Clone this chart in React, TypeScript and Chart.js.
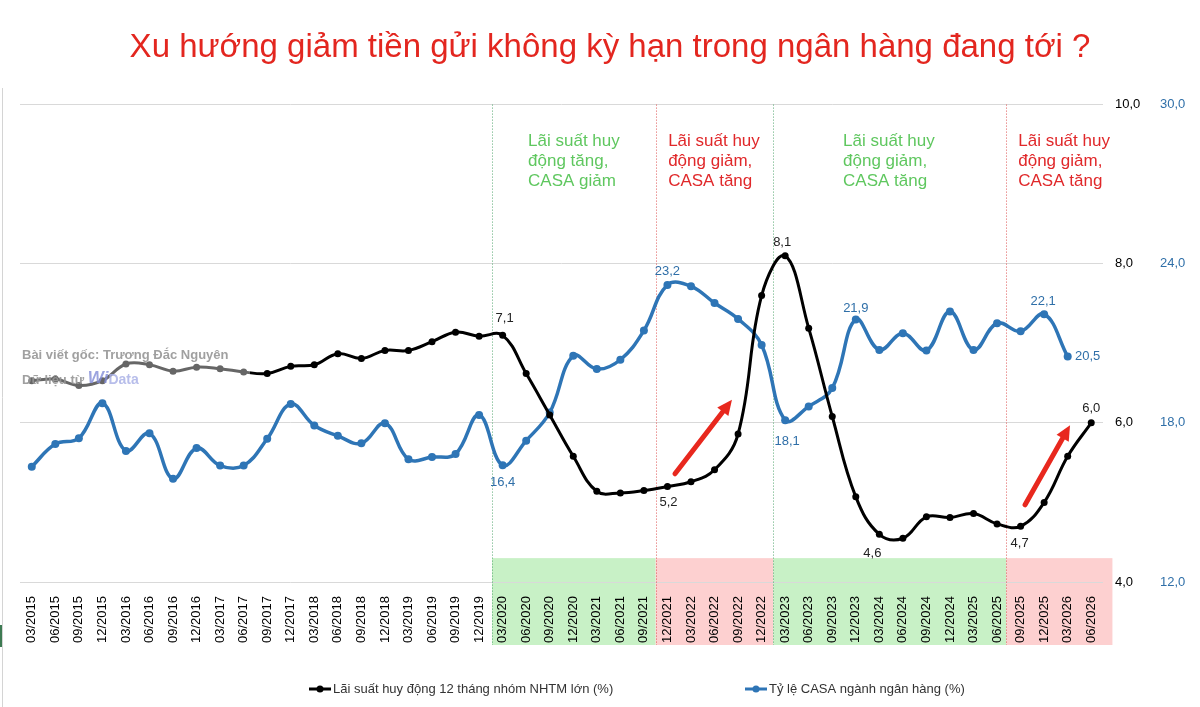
import React, { useEffect, useRef } from "react";
import { Chart, registerables } from "chart.js";

Chart.register(...registerables);
Chart.defaults.font.family = "'Liberation Sans', Arial, sans-serif";

// ---------- DATA ----------
const LABELS = [
  "03/2015", "06/2015", "09/2015", "12/2015",
  "03/2016", "06/2016", "09/2016", "12/2016",
  "03/2017", "06/2017", "09/2017", "12/2017",
  "03/2018", "06/2018", "09/2018", "12/2018",
  "03/2019", "06/2019", "09/2019", "12/2019",
  "03/2020", "06/2020", "09/2020", "12/2020",
  "03/2021", "06/2021", "09/2021", "12/2021",
  "03/2022", "06/2022", "09/2022", "12/2022",
  "03/2023", "06/2023", "09/2023", "12/2023",
  "03/2024", "06/2024", "09/2024", "12/2024",
  "03/2025", "06/2025", "09/2025", "12/2025",
  "03/2026", "06/2026",
];

// Lãi suất huy động 12 tháng nhóm NHTM lớn (%)
const RATE = [
  6.53, 6.55, 6.47, 6.53, 6.74, 6.73, 6.65, 6.70, 6.68, 6.64,
  6.62, 6.71, 6.73, 6.87, 6.81, 6.91, 6.91, 7.02, 7.14, 7.09,
  7.1, 6.62, 6.10, 5.58, 5.14, 5.12, 5.15, 5.2, 5.26, 5.41,
  5.86, 7.60, 8.1, 7.19, 6.08, 5.07, 4.6, 4.55, 4.82, 4.81,
  4.86, 4.73, 4.7, 5.0, 5.58, 6.0,
];

// Tỷ lệ CASA ngành ngân hàng (%)
const CASA: (number | null)[] = [
  16.35, 17.2, 17.42, 18.74, 16.94, 17.61, 15.89, 17.05, 16.39, 16.39,
  17.40, 18.71, 17.90, 17.51, 17.23, 17.99, 16.63, 16.71, 16.83, 18.30,
  16.4, 17.33, 18.39, 20.53, 20.03, 20.38, 21.48, 23.2, 23.15, 22.52,
  21.92, 20.94, 18.1, 18.62, 19.31, 21.9, 20.75, 21.38, 20.73, 22.2,
  20.75, 21.76, 21.45, 22.1, 20.5, null,
];

const RATE_SERIES_NAME = "Lãi suất huy động 12 tháng nhóm NHTM lớn (%)";
const CASA_SERIES_NAME = "Tỷ lệ CASA ngành ngân hàng (%)";
const TITLE = "Xu hướng giảm tiền gửi không kỳ hạn trong ngân hàng đang tới ?";

const RATE_AXIS = { min: 4, max: 10, step: 2 };
const CASA_AXIS = { min: 12, max: 30, step: 6 };

// indices of labelled points
const RATE_LABEL_IDX = [20, 27, 32, 36, 42, 45];
const CASA_LABEL_IDX = [20, 27, 32, 35, 43, 44];

// phases (category-index boundaries)
const PHASE_BOUNDS = [19.55, 26.5, 31.5, 41.4, 45.9];
const PHASE_KIND = ["green", "red", "green", "red"];
const PHASE_TEXT = [
  ["Lãi suất huy", "động tăng,", "CASA giảm"],
  ["Lãi suất huy", "động giảm,", "CASA tăng"],
  ["Lãi suất huy", "động giảm,", "CASA tăng"],
  ["Lãi suất huy", "động giảm,", "CASA tăng"],
];
const BAND_TOP_VALUE = 4.3;

// arrows in data units (category index, rate value)
const ARROWS = [
  { from: [27.32, 5.36], to: [29.74, 6.29] },
  { from: [42.19, 4.97], to: [44.1, 5.97] },
];

// ---------- STYLE ----------
const BLACK = "#000000";
const BLUE = "#2e75b6";
const BLUE_TEXT = "#2f6fa8";
const PHASE_FILL: Record<string, string> = { green: "#c8f1c6", red: "#fdd0d0" };
const PHASE_LINE: Record<string, string> = { green: "rgba(70,160,100,0.9)", red: "rgba(220,70,70,0.9)" };
const PHASE_TEXT_COLOR: Record<string, string> = { green: "#5fc75f", red: "#e0282a" };
const PHASE_TEXT_POS = [21.08, 27.03, 34.46, 41.9];
const RATE_LABEL_OFFSETS = [[2, -17], [1, 16], [-3, -13], [-7, 19], [-1, 17], [0, -14]];
const CASA_LABEL_OFFSETS = [[0, 17], [0, -14], [2, 21], [0, -11], [-1, -13], [20, 0]];

const fmt = (v: number) => v.toFixed(1).replace(".", ",");

function xAt(chart: any, v: number) {
  const s = chart.scales.x;
  const p0 = s.getPixelForValue(0);
  const p1 = s.getPixelForValue(1);
  return p0 + v * (p1 - p0);
}

function drawArrow(ctx: CanvasRenderingContext2D, x1: number, y1: number, x2: number, y2: number) {
  const ang = Math.atan2(y2 - y1, x2 - x1);
  const hl = 15, hw = 7;
  const bx = x2 - hl * Math.cos(ang);
  const by = y2 - hl * Math.sin(ang);
  ctx.lineWidth = 5;
  ctx.lineCap = "round";
  ctx.beginPath();
  ctx.moveTo(x1, y1);
  ctx.lineTo(bx, by);
  ctx.stroke();
  ctx.beginPath();
  ctx.moveTo(x2, y2);
  ctx.lineTo(bx + hw * Math.sin(ang), by - hw * Math.cos(ang));
  ctx.lineTo(bx - hw * Math.sin(ang), by + hw * Math.cos(ang));
  ctx.closePath();
  ctx.fill();
}

const decorPlugin = {
  id: "decor",
  beforeDraw(chart: any) {
    const { ctx, scales } = chart;
    const x = scales.x, y = scales.y;
    ctx.save();
    // outer frame line
    ctx.strokeStyle = "#d4d4d4";
    ctx.lineWidth = 1;
    ctx.beginPath();
    ctx.moveTo(2.5, 88);
    ctx.lineTo(2.5, chart.height);
    ctx.stroke();
    ctx.fillStyle = "#3d7a52";
    ctx.fillRect(0, 625, 2, 22);
    // phase bands
    const top = y.getPixelForValue(BAND_TOP_VALUE);
    const bottom = x.bottom;
    for (let i = 0; i < PHASE_KIND.length; i++) {
      const l = xAt(chart, PHASE_BOUNDS[i]);
      const r = xAt(chart, PHASE_BOUNDS[i + 1]);
      ctx.fillStyle = PHASE_FILL[PHASE_KIND[i]];
      ctx.fillRect(l, top, r - l, bottom - top);
    }
    ctx.restore();
  },
  beforeDatasetsDraw(chart: any) {
    const { ctx, chartArea, scales } = chart;
    ctx.save();
    // dotted separators
    ctx.lineWidth = 1;
    ctx.setLineDash([1, 2]);
    for (let i = 0; i < PHASE_KIND.length; i++) {
      const px = Math.round(xAt(chart, PHASE_BOUNDS[i])) + 0.5;
      ctx.strokeStyle = PHASE_LINE[PHASE_KIND[i]];
      ctx.beginPath();
      ctx.moveTo(px, chartArea.top);
      ctx.lineTo(px, scales.x.bottom);
      ctx.stroke();
    }
    ctx.setLineDash([]);
    // phase texts
    ctx.font = "17px 'Liberation Sans', Arial, sans-serif";
    ctx.textAlign = "left";
    ctx.textBaseline = "middle";
    for (let i = 0; i < PHASE_TEXT.length; i++) {
      ctx.fillStyle = PHASE_TEXT_COLOR[PHASE_KIND[i]];
      const tx = xAt(chart, PHASE_TEXT_POS[i]);
      PHASE_TEXT[i].forEach((line, k) => {
        ctx.fillText(line, tx, chartArea.top + 37 + 20 * k);
      });
    }
    ctx.restore();
  },
  afterDatasetsDraw(chart: any) {
    const { ctx, scales } = chart;
    ctx.save();
    // arrows
    ctx.strokeStyle = "#e8281e";
    ctx.fillStyle = "#e8281e";
    for (const a of ARROWS) {
      drawArrow(
        ctx,
        xAt(chart, a.from[0]), scales.y.getPixelForValue(a.from[1]),
        xAt(chart, a.to[0]), scales.y.getPixelForValue(a.to[1])
      );
    }
    // data labels
    ctx.font = "13px 'Liberation Sans', Arial, sans-serif";
    ctx.textBaseline = "middle";
    const m0 = chart.getDatasetMeta(0);
    ctx.fillStyle = "#222";
    RATE_LABEL_IDX.forEach((idx, k) => {
      const p = m0.data[idx];
      const [dx, dy] = RATE_LABEL_OFFSETS[k];
      ctx.textAlign = "center";
      ctx.fillText(fmt(RATE[idx]), p.x + dx, p.y + dy);
    });
    const m1 = chart.getDatasetMeta(1);
    ctx.fillStyle = BLUE_TEXT;
    CASA_LABEL_IDX.forEach((idx, k) => {
      const p = m1.data[idx];
      const [dx, dy] = CASA_LABEL_OFFSETS[k];
      ctx.textAlign = "center";
      ctx.fillText(fmt(CASA[idx] as number), p.x + dx, p.y + dy);
    });
    // watermark
    ctx.fillStyle = "rgba(255,255,255,0.4)";
    ctx.fillRect(20, 343, 230, 48);
    ctx.textAlign = "left";
    ctx.fillStyle = "rgba(150,150,150,0.9)";
    ctx.font = "bold 13px 'Liberation Sans', Arial, sans-serif";
    ctx.fillText("Bài viết gốc: Trương Đắc Nguyên", 22, 355);
    ctx.fillText("Dữ liệu từ", 22, 380);
    const w1 = ctx.measureText("Dữ liệu từ ").width;
    ctx.font = "italic bold 17px 'Liberation Sans', Arial, sans-serif";
    ctx.fillStyle = "rgba(130,140,215,0.8)";
    ctx.fillText("Wi", 22 + w1, 378);
    const w2 = ctx.measureText("Wi").width;
    ctx.font = "bold 14px 'Liberation Sans', Arial, sans-serif";
    ctx.fillStyle = "rgba(170,178,230,0.85)";
    ctx.fillText("Data", 22 + w1 + w2, 380);
    // legend
    const ly = chart.height - 18;
    const items = [
      { x: 309, color: BLACK, text: RATE_SERIES_NAME },
      { x: 745, color: BLUE, text: CASA_SERIES_NAME },
    ];
    ctx.font = "13px 'Liberation Sans', Arial, sans-serif";
    for (const it of items) {
      ctx.strokeStyle = it.color;
      ctx.fillStyle = it.color;
      ctx.lineWidth = 3;
      ctx.lineCap = "butt";
      ctx.beginPath();
      ctx.moveTo(it.x, ly);
      ctx.lineTo(it.x + 22, ly);
      ctx.stroke();
      ctx.beginPath();
      ctx.arc(it.x + 11, ly, 3.5, 0, Math.PI * 2);
      ctx.fill();
      ctx.fillStyle = "#333";
      ctx.textAlign = "left";
      ctx.fillText(it.text, it.x + 24, ly);
    }
    ctx.restore();
  },
};

export default function App() {
  const ref = useRef<HTMLCanvasElement>(null);
  useEffect(() => {
    if (!ref.current) return;
    const chart = new Chart(ref.current, {
      type: "line",
      data: {
        labels: LABELS,
        datasets: [
          {
            label: RATE_SERIES_NAME,
            data: RATE,
            yAxisID: "y",
            borderColor: BLACK,
            backgroundColor: BLACK,
            borderWidth: 3,
            pointRadius: 3.5,
            pointBackgroundColor: BLACK,
            pointBorderWidth: 0,
            tension: 0.4,
          },
          {
            label: CASA_SERIES_NAME,
            data: CASA,
            yAxisID: "y2",
            borderColor: BLUE,
            backgroundColor: BLUE,
            borderWidth: 3.5,
            pointRadius: 4,
            pointBackgroundColor: BLUE,
            pointBorderWidth: 0,
            tension: 0.4,
          },
        ],
      },
      options: {
        responsive: false,
        animation: false,
        devicePixelRatio: 1,
        layout: { padding: { left: 20, right: 0, top: 0, bottom: 62 } },
        plugins: {
          legend: { display: false },
          tooltip: { enabled: false },
          title: {
            display: true,
            text: TITLE,
            color: "#e3261f",
            font: { size: 33, weight: "normal" as any, lineHeight: 1.2 },
            padding: { top: 28, bottom: 37 },
          },
        },
        scales: {
          x: {
            offset: true,
            grid: { display: false },
            border: { display: false },
            ticks: {
              autoSkip: false,
              maxRotation: 90,
              minRotation: 90,
              color: "#000",
              padding: 6,
              font: { size: 13 },
            },
            afterFit: (s: any) => { s.height = 63; },
          },
          y: {
            position: "right",
            weight: 0,
            min: RATE_AXIS.min,
            max: RATE_AXIS.max,
            border: { display: false },
            grid: { color: "#d9d9d9", drawTicks: false, lineWidth: 1 },
            ticks: {
              stepSize: RATE_AXIS.step,
              color: "#000",
              padding: 12,
              font: { size: 13 },
              callback: (v: any) => fmt(Number(v)),
            },
            afterFit: (s: any) => { s.width = 37; },
          },
          y2: {
            position: "right",
            weight: 1,
            min: CASA_AXIS.min,
            max: CASA_AXIS.max,
            border: { display: false },
            grid: { display: false },
            ticks: {
              stepSize: CASA_AXIS.step,
              color: BLUE_TEXT,
              padding: 12,
              font: { size: 13 },
              callback: (v: any) => fmt(Number(v)),
            },
            afterFit: (s: any) => { s.width = 60; },
          },
        },
      },
      plugins: [decorPlugin],
    } as any);
    return () => chart.destroy();
  }, []);
  return (
    <div style={{ position: "absolute", left: 0, top: 0, width: 1200, height: 707, background: "#fff" }}>
      <canvas ref={ref} width={1200} height={707} style={{ display: "block", width: 1200, height: 707 }} />
    </div>
  );
}
